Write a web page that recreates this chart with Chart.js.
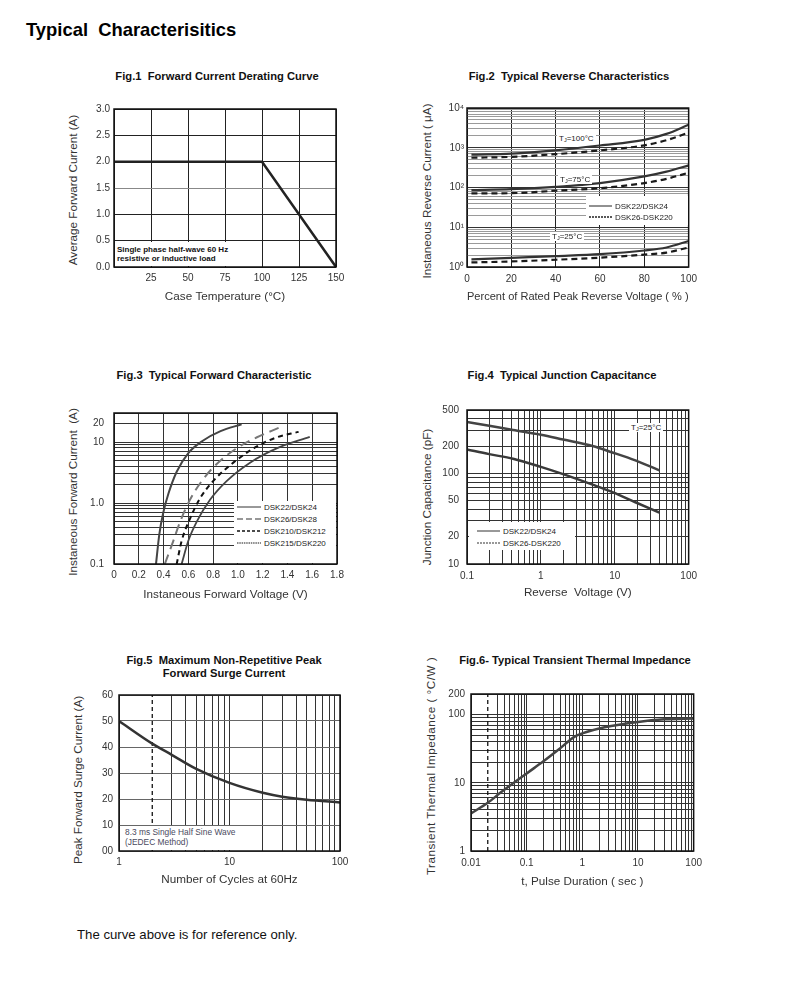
<!DOCTYPE html>
<html>
<head>
<meta charset="utf-8">
<title>Typical Characterisitics</title>
<script src="https://cdn.jsdelivr.net/npm/chart.js@4.4.1/dist/chart.umd.min.js"></script>
<style>
body{margin:0;background:#fff;font-family:"Liberation Sans",Arial,sans-serif;color:#111}
#page{position:relative;width:790px;height:983px;overflow:hidden}
#page canvas{position:absolute}
.h1{position:absolute;left:26px;top:21px;font-size:18.4px;line-height:18px;font-weight:bold;white-space:pre;color:#000}
.foot{position:absolute;left:77px;top:928px;font-size:13.2px;line-height:13px;color:#111}
.fig{position:absolute;font-size:11.2px;line-height:12.5px;font-weight:bold;white-space:pre;text-align:center;transform:translateX(-50%);color:#111}
.yt{position:absolute;font-size:11.7px;line-height:14px;white-space:pre;color:#333;transform:translate(-50%,-50%) rotate(-90deg)}
.bx{position:absolute;background:#fff}
.note{position:absolute;font-size:8px;line-height:9.7px;white-space:nowrap}
.tj{position:absolute;background:#fff;font-size:8px;line-height:9px;height:9px;padding:0 2px;color:#222;white-space:nowrap}
.tj sub{font-size:5.5px;vertical-align:-1px}
.lg{position:absolute;display:flex;align-items:center;height:10px;font-size:8px;color:#222;white-space:nowrap}
.lg svg{margin-right:3px}
</style>
</head>
<body>
<div id="page">
  <div class="h1">Typical  Characterisitics</div>

  <div class="fig" style="left:217px;top:70px">Fig.1  Forward Current Derating Curve</div>
  <div class="fig" style="left:569px;top:70px">Fig.2  Typical Reverse Characteristics</div>
  <div class="fig" style="left:214px;top:368.5px">Fig.3  Typical Forward Characteristic</div>
  <div class="fig" style="left:562px;top:368.5px">Fig.4  Typical Junction Capacitance</div>
  <div class="fig" style="left:224px;top:654px">Fig.5  Maximum Non-Repetitive Peak<br>Forward Surge Current</div>
  <div class="fig" style="left:575px;top:654px">Fig.6- Typical Transient Thermal Impedance</div>

  <div class="yt" style="left:73px;top:190px">Average Forward Current (A)</div>
  <div class="yt" style="left:427px;top:191px">Instaneous Reverse Current ( μA)</div>
  <div class="yt" style="left:73px;top:492px">Instaneous Forward Current  (A)</div>
  <div class="yt" style="left:427px;top:497px">Junction Capacitance (pF)</div>
  <div class="yt" style="left:78px;top:780px">Peak Forward Surge Current (A)</div>
  <div class="yt" style="left:431px;top:766px;letter-spacing:0.5px">Transient Thermal Impedance ( °C/W )</div>

  <canvas id="fig1"></canvas>
  <canvas id="fig2"></canvas>
  <canvas id="fig3"></canvas>
  <canvas id="fig4"></canvas>
  <canvas id="fig5"></canvas>
  <canvas id="fig6"></canvas>

  <!-- fig.1 note -->
  <div class="bx" style="left:115.5px;top:241.5px;width:125px;height:24px"></div>
  <div class="note" style="left:117px;top:244.5px;font-weight:bold;color:#111">Single phase half-wave 60 Hz<br>resistive or inductive load</div>

  <!-- fig.2 labels + legend -->
  <div class="tj" style="left:557px;top:134px">T<sub>J</sub>=100°C</div>
  <div class="tj" style="left:558px;top:174.5px">T<sub>J</sub>=75°C</div>
  <div class="tj" style="left:550px;top:231.5px">T<sub>J</sub>=25°C</div>
  <div class="bx" style="left:586px;top:196px;width:101.5px;height:29px"></div>
  <div class="lg" style="left:589px;top:201px"><svg width="23" height="4"><line x1="0" y1="2" x2="23" y2="2" stroke="#222" stroke-width="1"/></svg>DSK22/DSK24</div>
  <div class="lg" style="left:589px;top:212px"><svg width="23" height="4"><line x1="0" y1="2" x2="23" y2="2" stroke="#222" stroke-width="1.3" stroke-dasharray="2,1"/></svg>DSK26-DSK220</div>

  <!-- fig.3 legend -->
  <div class="bx" style="left:234px;top:501px;width:101.5px;height:61.5px"></div>
  <div class="lg" style="left:237px;top:502px"><svg width="24" height="4"><line x1="0" y1="2" x2="24" y2="2" stroke="#333" stroke-width="1"/></svg>DSK22/DSK24</div>
  <div class="lg" style="left:237px;top:514px"><svg width="24" height="4"><line x1="0" y1="2" x2="24" y2="2" stroke="#777" stroke-width="1.3" stroke-dasharray="6,3"/></svg>DSK26/DSK28</div>
  <div class="lg" style="left:237px;top:526px"><svg width="24" height="4"><line x1="0" y1="2" x2="24" y2="2" stroke="#111" stroke-width="1.3" stroke-dasharray="3,2"/></svg>DSK210/DSK212</div>
  <div class="lg" style="left:237px;top:538px"><svg width="24" height="4"><line x1="0" y1="2" x2="24" y2="2" stroke="#666" stroke-width="1.3" stroke-dasharray="1.5,0.8"/></svg>DSK215/DSK220</div>

  <!-- fig.4 label + legend -->
  <div class="tj" style="left:629px;top:422.5px">T<sub>J</sub>=25°C</div>
  <div class="bx" style="left:468.5px;top:522px;width:106.5px;height:28px"></div>
  <div class="lg" style="left:477px;top:526px"><svg width="23" height="4"><line x1="0" y1="2" x2="23" y2="2" stroke="#333" stroke-width="1"/></svg>DSK22/DSK24</div>
  <div class="lg" style="left:477px;top:538px"><svg width="23" height="4"><line x1="0" y1="2" x2="23" y2="2" stroke="#333" stroke-width="1.2" stroke-dasharray="2,1"/></svg>DSK26-DSK220</div>

  <!-- fig.5 note -->
  <div class="bx" style="left:120.5px;top:825.5px;width:119px;height:24px"></div>
  <div class="note" style="left:125px;top:827px;font-size:8.4px;line-height:10px;color:#4a4a5e">8.3 ms Single Half Sine Wave<br>(JEDEC Method)</div>

  <div class="foot">The curve above is for reference only.</div>
</div>

<script>
// ---- Fig.1 derating curve
const fig1Temp = [0, 100, 150];
const fig1Current = [2.0, 2.0, 0.0];
const fig1XTicks = [25, 50, 75, 100, 125, 150];
const fig1YTicks = [0, 0.5, 1, 1.5, 2, 2.5, 3];
const fig1YLabels = ['0.0', '0.5', '1.0', '1.5', '2.0', '2.5', '3.0'];

// ---- Fig.2 reverse characteristics (uA vs % of VRRM)
const fig2Percent = [2, 20, 40, 60, 80, 90, 100];
const fig2Ir100A = [670, 710, 860, 1140, 1580, 2230, 3800];
const fig2Ir100B = [560, 590, 690, 860, 1150, 1550, 2400];
const fig2Ir75A = [86, 91, 104, 129, 190, 250, 360];
const fig2Ir75B = [71, 72, 83, 96, 129, 165, 235];
const fig2Ir25A = [1.55, 1.7, 1.88, 2.1, 2.6, 3.1, 4.5];
const fig2Ir25B = [1.3, 1.38, 1.52, 1.72, 2.05, 2.3, 3.1];
const fig2XTicks = [0, 20, 40, 60, 80, 100];
const fig2YTicks = [1, 10, 100, 1000, 10000];
const fig2YLabels = ['10⁰', '10¹', '10²', '10³', '10⁴'];

// ---- Fig.3 forward characteristic
const fig3Vf22 = [0.339, 0.366, 0.398, 0.439, 0.506, 0.60, 0.72, 0.86, 1.03];
const fig3If22 = [0.1, 0.31, 0.70, 1.42, 3.26, 6.6, 10.6, 15.1, 19.6];
const fig3Vf26 = [0.41, 0.479, 0.533, 0.613, 0.708, 0.829, 0.99, 1.15, 1.34];
const fig3If26 = [0.1, 0.24, 0.49, 1.13, 2.29, 4.37, 7.9, 11.9, 17.5];
const fig3Vf210 = [0.506, 0.546, 0.613, 0.694, 0.80, 0.963, 1.15, 1.31, 1.49];
const fig3If210 = [0.1, 0.24, 0.55, 1.19, 2.29, 4.6, 8.4, 11.9, 14.7];
const fig3Vf215 = [0.546, 0.60, 0.667, 0.775, 0.909, 1.098, 1.313, 1.58];
const fig3If215 = [0.1, 0.24, 0.49, 1.13, 2.29, 4.6, 7.9, 12.2];
const fig3XTicks = [0, 0.2, 0.4, 0.6, 0.8, 1.0, 1.2, 1.4, 1.6, 1.8];
const fig3XLabels = ['0', '0.2', '0.4', '0.6', '0.8', '1.0', '1.2', '1.4', '1.6', '1.8'];
const fig3YTicks = [0.1, 1, 10, 20];
const fig3YLabels = ['0.1', '1.0', '10', '20'];

// ---- Fig.4 junction capacitance
const fig4Vr = [0.1, 0.2, 0.42, 1, 2, 5, 9.3, 19, 40];
const fig4Cj22 = [369, 335, 301, 267, 236, 200, 170, 139, 108];
const fig4Cj26 = [184, 163, 145, 118, 98, 75, 62, 48, 37];
const fig4XTicks = [0.1, 1, 10, 100];
const fig4XLabels = ['0.1', '1', '10', '100'];
const fig4YTicks = [10, 20, 50, 100, 200, 500];
const fig4YLabels = ['10', '20', '50', '100', '200', '500'];

// ---- Fig.5 surge current
const fig5Cycles = [1, 2, 3, 5, 10, 20, 30, 50, 100];
const fig5Ifsm = [50, 41.3, 37, 31.6, 26.2, 22.4, 20.9, 19.7, 18.7];
const fig5MarkX = [2, 2];
const fig5MarkY = [0, 60];
const fig5XTicks = [1, 10, 100];
const fig5XLabels = ['1', '10', '100'];
const fig5YTicks = [0, 10, 20, 30, 40, 50, 60];
const fig5YLabels = ['00', '10', '20', '30', '40', '50', '60'];

// ---- Fig.6 transient thermal impedance
const fig6Time = [0.01, 0.02, 0.035, 0.1, 0.2, 0.37, 0.73, 1, 2.5, 10, 30, 100];
const fig6Zth = [3.55, 5.1, 7.3, 13.7, 20.6, 30.4, 47.5, 53, 65, 78, 85, 87.5];
const fig6MarkX = [0.02, 0.02];
const fig6MarkY = [1, 200];
const fig6XTicks = [0.01, 0.1, 1, 10, 100];
const fig6XLabels = ['0.01', '0.1', '1', '10', '100'];
const fig6YTicks = [1, 10, 100, 200];
const fig6YLabels = ['1', '10', '100', '200'];

Chart.defaults.font.family = '"Liberation Sans", Arial, sans-serif';
Chart.defaults.color = '#333';

// grid lines for a log axis: 1..9 x 10^n inside [min,max]
function logGrid(min, max){
  const out = [];
  for(let e = Math.floor(Math.log10(min)); e <= Math.ceil(Math.log10(max)); e++){
    for(let m = 1; m <= 9; m++){
      const v = +(m * Math.pow(10, e)).toPrecision(6);
      if(v >= min * 0.9999 && v <= max * 1.0001) out.push(v);
    }
  }
  if(!out.some(v => Math.abs(v - max) <= max * 1e-6)) out.push(max);
  return out;
}
function linGrid(min, max, step){
  const out = [];
  for(let v = min; v <= max + step / 1000; v += step) out.push(+v.toFixed(6));
  return out;
}
const same = (a, b) => Math.abs(a - b) <= Math.abs(b) * 1e-6 + 1e-9;
function labeler(values, labels){
  return v => {
    const i = values.findIndex(t => same(v, t));
    return i < 0 ? '' : (labels ? labels[i] : String(values[i]));
  };
}

function axis(o){
  return {
    type: o.type, position: o.position, min: o.min, max: o.max,
    afterBuildTicks: s => { s.ticks = o.grid.map(v => ({value: v})); },
    afterFit: s => { if(o.position === 'left') s.width = o.size; else s.height = o.size; },
    ticks: {autoSkip: false, maxRotation: 0, minRotation: 0, padding: o.pad, color: '#333',
            font: {size: 10}, callback: labeler(o.ticks, o.labels)},
    grid: {drawTicks: false, lineWidth: 1,
           color: c => (o.gridColor ? o.gridColor(c.tick.value) : '#333')},
    border: {display: false},
    // y titles are html (canvas squeezes rotated text to the axis length)
    title: {display: !!o.title, text: o.title || '', color: '#333', font: {size: 11.7}, padding: 0}
  };
}

function series(xs, ys, style){
  return Object.assign({
    data: xs.map((x, i) => ({x, y: ys[i]})),
    borderColor: '#333', borderWidth: 2, pointRadius: 0, fill: false,
    tension: 0.4, cubicInterpolationMode: 'monotone'
  }, style);
}

const framePlugin = {
  id: 'frame',
  afterDatasetsDraw(chart){
    const {ctx, chartArea: a} = chart;
    ctx.save();
    ctx.strokeStyle = '#111';
    ctx.lineWidth = 1.5;
    ctx.strokeRect(a.left, a.top, a.right - a.left, a.bottom - a.top);
    ctx.restore();
  }
};

// plot = [left, top, right, bottom] of the plot area on the page
function makeChart(id, plot, yW, xH, datasets, xAxis, yAxis){
  const [L, T, R, B] = plot;
  const padTop = 8, padRight = 14;
  const cv = document.getElementById(id);
  cv.width = yW + (R - L) + padRight;
  cv.height = padTop + (B - T) + xH;
  cv.style.left = (L - yW) + 'px';
  cv.style.top = (T - padTop) + 'px';
  xAxis.position = 'bottom'; xAxis.size = xH;
  yAxis.position = 'left'; yAxis.size = yW;
  return new Chart(cv, {
    type: 'line',
    data: {datasets},
    options: {
      responsive: false, animation: false, events: [],
      layout: {padding: {top: padTop, right: padRight, left: 0, bottom: 0}},
      plugins: {legend: {display: false}, tooltip: {enabled: false}},
      scales: {x: axis(xAxis), y: axis(yAxis)}
    },
    plugins: [framePlugin]
  });
}

// Fig.1
makeChart('fig1', [114, 107, 336, 267], 48, 37,
  [series(fig1Temp, fig1Current, {borderColor: '#222', borderWidth: 2.5, tension: 0, cubicInterpolationMode: 'default'})],
  {type: 'linear', min: 0, max: 150, grid: linGrid(0, 150, 25), ticks: fig1XTicks, pad: 5,
   title: 'Case Temperature (°C)', gridColor: () => '#222'},
  {type: 'linear', min: 0, max: 3, grid: fig1YTicks, ticks: fig1YTicks, labels: fig1YLabels, pad: 4,
   gridColor: v => same(v, 1.5) ? '#888' : '#222'});

// Fig.2
const dashA = {borderColor: '#333', borderWidth: 2.2};
const dashB = {borderColor: '#1a1a1a', borderWidth: 2.2, borderDash: [6, 4]};
makeChart('fig2', [467, 107, 689, 267], 47, 37,
  [series(fig2Percent, fig2Ir100A, dashA), series(fig2Percent, fig2Ir100B, dashB),
   series(fig2Percent, fig2Ir75A, dashA), series(fig2Percent, fig2Ir75B, dashB),
   series(fig2Percent, fig2Ir25A, dashA), series(fig2Percent, fig2Ir25B, dashB)],
  {type: 'linear', min: 0, max: 100, grid: fig2XTicks, ticks: fig2XTicks, pad: 6,
   title: 'Percent of Rated Peak Reverse Voltage ( % )', gridColor: () => '#222'},
  {type: 'logarithmic', min: 1, max: 10000, grid: logGrid(1, 10000), ticks: fig2YTicks, labels: fig2YLabels, pad: 3,
   gridColor: v => fig2YTicks.some(t => same(v, t)) ? '#333' : '#9a9a9a'});

// Fig.3
makeChart('fig3', [114, 405, 337, 564], 48, 38,
  [series(fig3Vf22, fig3If22, {borderColor: '#444', borderWidth: 2}),
   series(fig3Vf26, fig3If26, {borderColor: '#777', borderWidth: 2, borderDash: [10, 6]}),
   series(fig3Vf210, fig3If210, {borderColor: '#111', borderWidth: 2, borderDash: [5, 4]}),
   series(fig3Vf215, fig3If215, {borderColor: '#444', borderWidth: 1.8})],
  {type: 'linear', min: 0, max: 1.8, grid: fig3XTicks, ticks: fig3XTicks, labels: fig3XLabels, pad: 5,
   title: 'Instaneous Forward Voltage (V)'},
  {type: 'logarithmic', min: 0.1, max: 30, grid: logGrid(0.1, 30), ticks: fig3YTicks, labels: fig3YLabels, pad: 10});

// Fig.4
makeChart('fig4', [467, 404, 689, 564], 47, 36,
  [series(fig4Vr, fig4Cj22, {borderColor: '#444', borderWidth: 2.5}),
   series(fig4Vr, fig4Cj26, {borderColor: '#3a3a3a', borderWidth: 2.5})],
  {type: 'logarithmic', min: 0.1, max: 100, grid: logGrid(0.1, 100), ticks: fig4XTicks, labels: fig4XLabels, pad: 6,
   title: 'Reverse  Voltage (V)'},
  {type: 'logarithmic', min: 10, max: 500, grid: logGrid(10, 500), ticks: fig4YTicks, labels: fig4YLabels, pad: 8});

// Fig.5
makeChart('fig5', [119, 691, 340, 851], 48, 36,
  [series(fig5Cycles, fig5Ifsm, {borderColor: '#333', borderWidth: 2.5}),
   series(fig5MarkX, fig5MarkY, {borderColor: '#111', borderWidth: 1.3, borderDash: [4, 3], tension: 0, cubicInterpolationMode: 'default'})],
  {type: 'logarithmic', min: 1, max: 100, grid: logGrid(1, 100), ticks: fig5XTicks, labels: fig5XLabels, pad: 5,
   title: 'Number of Cycles at 60Hz', gridColor: v => same(v, 2) ? 'rgba(0,0,0,0)' : '#333'},
  {type: 'linear', min: 0, max: 60, grid: fig5YTicks, ticks: fig5YTicks, labels: fig5YLabels, pad: 6,
   gridColor: () => '#666'});

// Fig.6
makeChart('fig6', [471, 690, 694, 851], 47, 38,
  [series(fig6Time, fig6Zth, {borderColor: '#444', borderWidth: 2.5, tension: 0.25}),
   series(fig6MarkX, fig6MarkY, {borderColor: '#111', borderWidth: 1.3, borderDash: [4, 3], tension: 0, cubicInterpolationMode: 'default'})],
  {type: 'logarithmic', min: 0.01, max: 100, grid: logGrid(0.01, 100), ticks: fig6XTicks, labels: fig6XLabels, pad: 6,
   title: 't, Pulse Duration ( sec )', gridColor: v => same(v, 0.02) ? 'rgba(0,0,0,0)' : '#333'},
  {type: 'logarithmic', min: 1, max: 200, grid: logGrid(1, 200), ticks: fig6YTicks, labels: fig6YLabels, pad: 6});
</script>
</body>
</html>
